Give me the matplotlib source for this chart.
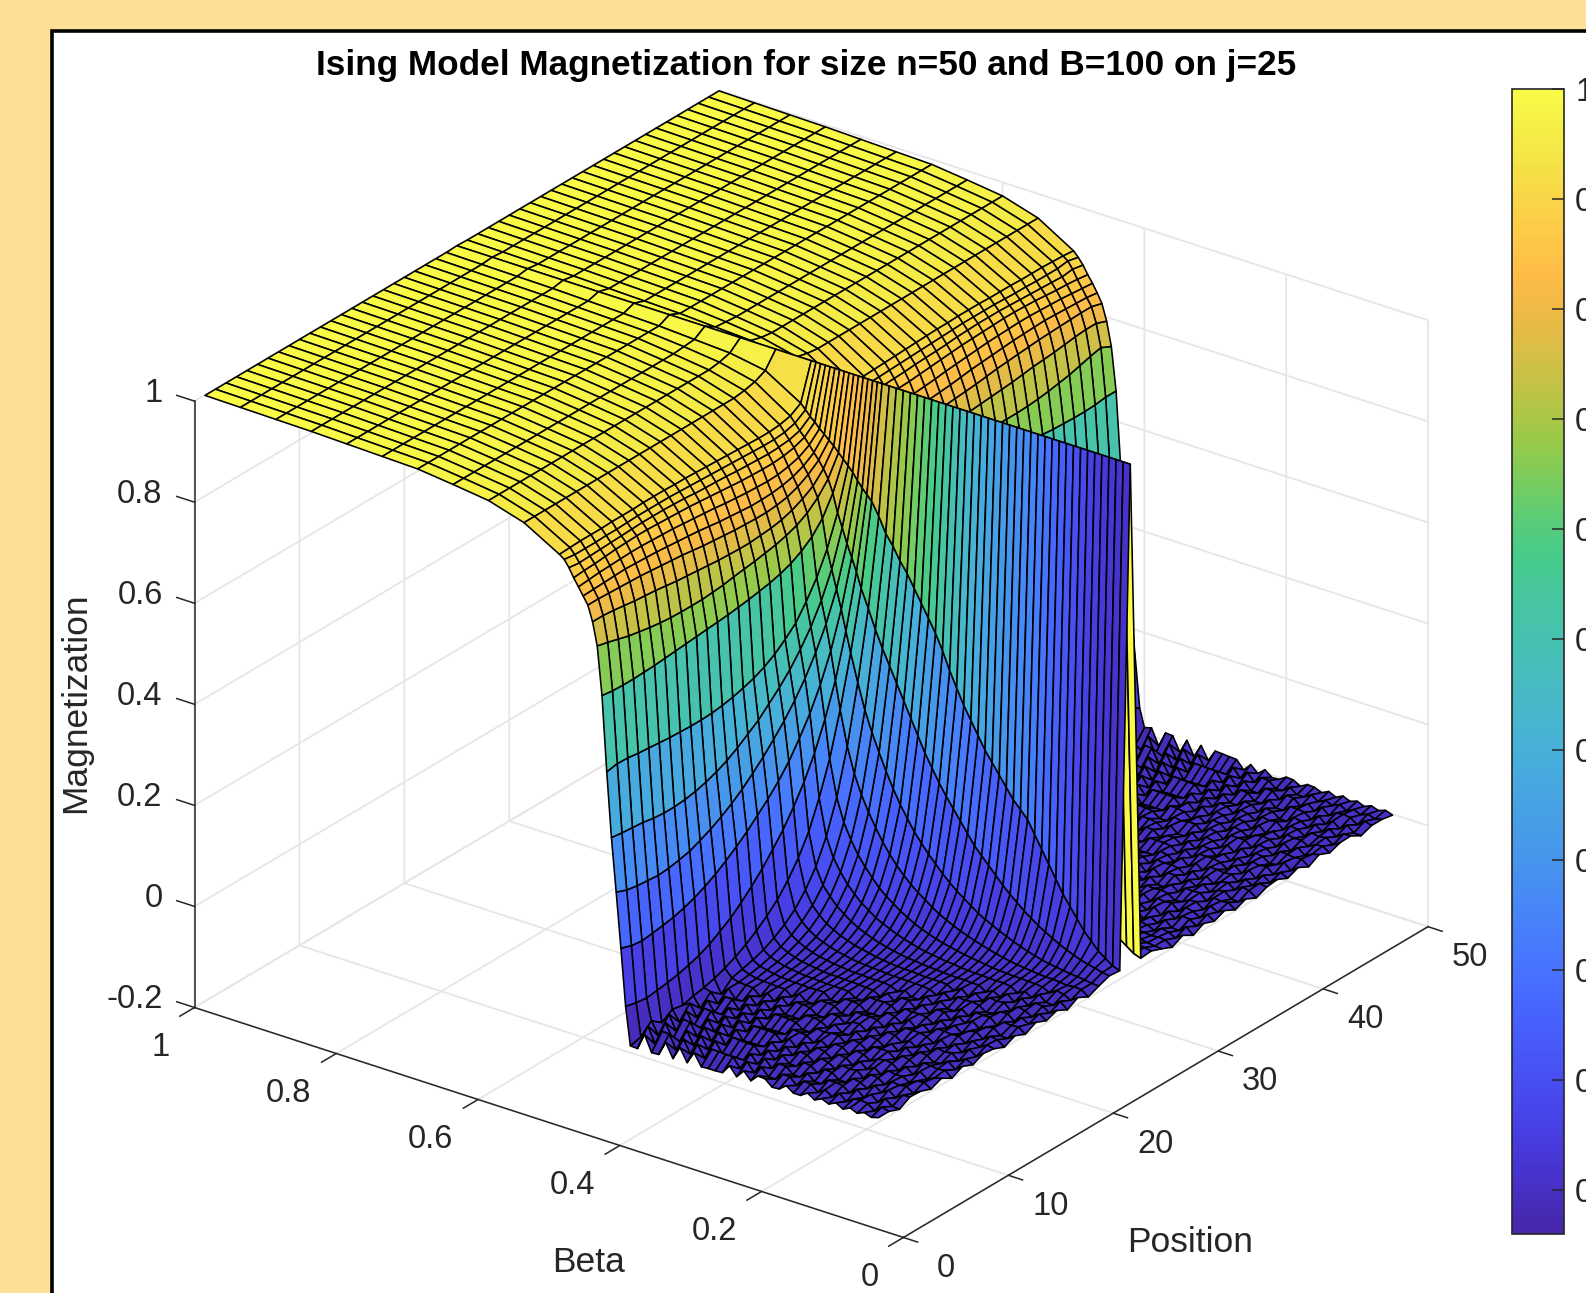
import numpy as np
import matplotlib
matplotlib.use("Agg")
import matplotlib.pyplot as plt
from matplotlib.colors import LinearSegmentedColormap, Normalize
from matplotlib.cm import ScalarMappable
from matplotlib.patches import Rectangle
from mpl_toolkits.mplot3d import proj3d

plt.rcParams['font.family'] = ['Liberation Sans', 'DejaVu Sans']

# fine steps below the transition, coarse ones above it
BETA = [0.05, 0.06, 0.07, 0.08, 0.09, 0.10, 0.11, 0.12, 0.13, 0.14, 0.15, 0.16,
        0.17, 0.18, 0.19, 0.20, 0.21, 0.22, 0.23, 0.24, 0.25, 0.26, 0.27, 0.28,
        0.29, 0.30, 0.31, 0.32, 0.33, 0.34, 0.35, 0.36, 0.37, 0.38, 0.39, 0.40,
        0.4067, 0.4133, 0.42, 0.4267, 0.4333, 0.44, 0.4467, 0.4533, 0.46, 0.4667,
        0.4733, 0.48, 0.4867, 0.4933, 0.50,
        0.55, 0.60, 0.65, 0.70, 0.75, 0.80, 0.85, 0.90, 0.95, 1.00]
POSITION = list(range(1, 51))
PINNED_POSITION = 25

# magnetization x1000, one row per beta, columns are distance 1..25 from j
MAG_BY_DISTANCE = [
    [10, 12, 4, -5, 6, -6, 5, -3, 6, -5, 4, -6, 3, 6, -4, 5, -6, 6, -3, 5, 6, -6, 2, 2, -2],
    [15, 14, 5, 5, -4, 6, -5, 6, -2, 5, -6, 4, 6, -5, 3, -6, 5, 2, 6, -4, 5, -5, 6, -2, 3],
    [25, 18, 7, 6, 3, -6, 4, -5, 6, 3, -5, 6, -3, 5, -6, 6, 3, -5, 4, 6, -5, 6, -6, 3, -2],
    [35, 21, 9, 4, 6, -5, 6, 3, -6, 5, 6, -4, 5, -6, 6, -3, 5, 6, -4, 3, 6, -6, 4, -3, 3],
    [50, 25, 10, 6, -3, 6, -4, 6, 5, -6, 3, 6, -5, 6, 3, -6, 6, -5, 4, 6, -4, 5, 6, 3, -3],
    [65, 30, 12, 7, 4, -5, 6, -6, 4, 6, -5, 3, 6, -5, 6, 4, -6, 6, 3, -5, 6, -6, 4, -4, 3],
    [85, 36, 14, 7, 6, 3, -6, 6, -4, 5, 6, -6, 4, 6, -5, 6, 3, -6, 6, 4, -5, 6, -6, 4, -2],
    [105, 42, 16, 8, 6, -5, 6, 4, -6, 6, -3, 5, 6, -6, 4, -5, 6, 4, -6, 6, 3, -6, 6, -3, 4],
    [125, 50, 19, 10, 7, 4, -5, 6, 3, -6, 6, -5, 6, 3, -6, 6, -5, 6, 3, -6, 6, 4, -6, 3, -3],
    [150, 58, 23, 11, 7, 6, 3, -5, 6, 4, -6, 6, -5, 6, 3, -6, 6, 3, -5, 6, -6, 6, 4, -4, 4],
    [175, 66, 27, 13, 8, 6, -4, 6, 4, -5, 6, -6, 5, 6, -6, 4, 6, -5, 6, 3, -6, 6, -6, 5, -3],
    [200, 76, 32, 15, 9, 6, 5, -5, 6, -5, 6, 3, -6, 6, 4, -6, 6, 3, -6, 6, 4, -6, 6, -4, 3],
    [225, 86, 37, 18, 10, 7, 5, 6, -4, 6, -6, 5, 6, -5, 6, 3, -6, 6, 4, -6, 6, -6, 7, -4, 4],
    [250, 98, 43, 21, 12, 7, 6, -3, 6, -5, 6, 4, -6, 6, -5, 6, 4, -6, 6, 3, -6, 6, -6, 6, -4],
    [265, 110, 49, 25, 14, 8, 6, 5, -4, 6, -6, 6, 3, -6, 6, -5, 6, 4, -6, 6, 4, -6, 7, -5, 4],
    [280, 123, 56, 29, 16, 9, 6, 6, 3, -5, 6, -6, 6, 4, -6, 6, -5, 6, 3, -6, 6, -6, 7, -6, 5],
    [300, 138, 63, 33, 18, 11, 7, 6, 5, -5, 6, 3, -6, 6, 4, -6, 6, -5, 6, 4, -6, 6, -7, 6, -4],
    [320, 153, 71, 38, 21, 12, 8, 6, 5, 4, -5, 6, -6, 6, 3, -6, 6, 4, -6, 6, -6, 7, -7, 7, -5],
    [340, 168, 81, 43, 24, 14, 9, 7, 6, -3, 6, 5, -6, 6, -5, 6, 3, -6, 7, -6, 7, -7, 8, -7, 6],
    [360, 183, 91, 49, 27, 16, 10, 8, 6, 4, -5, 6, 4, -6, 6, -5, 6, 4, -7, 7, -7, 8, -8, 8, -6],
    [385, 203, 101, 56, 31, 18, 12, 8, 6, 6, 3, -5, 6, -6, 6, 3, -6, 6, 6, -7, 7, -8, 9, -8, 7],
    [410, 223, 113, 63, 36, 21, 13, 9, 7, 6, 4, -5, 6, 4, -6, 6, -6, 7, -6, 7, -7, 8, -9, 9, -8],
    [435, 243, 126, 72, 41, 25, 15, 10, 8, 6, 5, 4, -5, 6, -6, 6, 4, -7, 7, -7, 8, -9, 10, -9, 8],
    [465, 263, 141, 82, 47, 29, 18, 12, 9, 7, 6, 5, -5, 6, 4, -6, 6, -7, 8, -8, 8, -9, 10, -10, 9],
    [495, 285, 156, 92, 55, 34, 21, 14, 10, 7, 6, 5, 6, -5, 6, -6, 7, -7, 8, -8, 9, -10, 11, -10, 10],
    [530, 310, 173, 104, 63, 40, 25, 17, 11, 8, 7, 5, 6, -5, 6, -6, 7, -8, 8, -9, 10, -10, 11, -11, 11],
    [560, 335, 191, 117, 73, 46, 29, 20, 13, 10, 7, 6, 5, 6, -6, 7, -7, 8, -8, 9, -10, 11, -11, 12, -12],
    [585, 365, 213, 132, 83, 53, 35, 23, 16, 11, 8, 7, 6, -5, 7, -7, 7, -8, 9, -9, 11, -11, 12, -12, 13],
    [610, 395, 236, 150, 95, 63, 41, 28, 19, 14, 10, 7, 6, 6, -6, 7, -8, 8, -9, 10, -11, 12, -12, 13, -13],
    [635, 425, 263, 170, 111, 73, 49, 33, 23, 16, 12, 9, 7, 6, 6, -7, 8, -8, 9, -10, 12, -12, 13, -13, 14],
    [660, 455, 293, 194, 128, 86, 59, 40, 28, 20, 14, 11, 8, 7, -6, 8, -8, 9, -9, 11, -12, 13, -13, 14, -14],
    [680, 485, 326, 220, 148, 101, 70, 48, 34, 25, 18, 13, 10, 8, 7, -7, 9, -9, 10, -11, 13, -13, 14, -14, 14],
    [705, 515, 361, 250, 173, 121, 85, 60, 43, 32, 23, 17, 13, 9, 8, -8, 9, -9, 11, -12, 14, -14, 15, -15, 15],
    [725, 548, 401, 287, 203, 145, 103, 75, 55, 41, 30, 22, 16, 12, 9, 9, -9, 10, -12, 13, -14, 15, -15, 16, -15],
    [755, 585, 451, 337, 248, 183, 135, 101, 75, 57, 43, 32, 24, 18, 13, -7, 10, -10, 12, -13, 15, -15, 16, -16, 16],
    [780, 620, 505, 405, 320, 255, 200, 160, 128, 102, 82, 65, 50, 38, 28, 20, 14, 10, 4, 8, -6, 10, -10, -15, 12],
    [790, 650, 545, 460, 395, 340, 295, 258, 225, 198, 172, 150, 130, 112, 98, 85, 75, 68, 62, 58, 55, 52, 55, 60, 48],
    [800, 675, 585, 515, 460, 415, 378, 345, 318, 295, 275, 255, 238, 222, 208, 196, 186, 178, 172, 168, 165, 162, 165, 172, 150],
    [812, 700, 622, 565, 520, 482, 450, 422, 398, 375, 355, 336, 320, 306, 294, 284, 275, 270, 266, 264, 266, 268, 272, 280, 255],
    [825, 728, 658, 608, 568, 536, 508, 485, 465, 445, 430, 415, 402, 392, 384, 378, 374, 372, 372, 374, 378, 380, 382, 385, 370],
    [835, 755, 695, 650, 615, 585, 565, 548, 535, 525, 518, 512, 508, 505, 504, 504, 505, 506, 508, 510, 512, 515, 516, 512, 510],
    [845, 790, 752, 728, 712, 700, 692, 686, 682, 678, 675, 672, 670, 668, 666, 664, 662, 660, 658, 657, 656, 656, 657, 660, 660],
    [855, 815, 790, 772, 760, 752, 746, 742, 738, 735, 732, 728, 726, 724, 724, 724, 725, 727, 730, 734, 738, 744, 750, 755, 745],
    [865, 832, 810, 797, 787, 780, 776, 774, 772, 772, 773, 774, 776, 778, 780, 782, 785, 788, 790, 792, 795, 798, 800, 800, 792],
    [873, 846, 830, 818, 810, 806, 804, 804, 805, 806, 808, 810, 812, 815, 818, 820, 822, 824, 826, 827, 828, 829, 830, 830, 824],
    [882, 858, 844, 835, 830, 827, 826, 826, 828, 830, 832, 835, 838, 840, 842, 844, 846, 847, 848, 849, 848, 847, 846, 845, 842],
    [890, 870, 858, 852, 848, 847, 848, 849, 851, 853, 856, 858, 860, 862, 864, 865, 866, 867, 867, 866, 865, 864, 862, 860, 858],
    [900, 882, 874, 870, 868, 868, 869, 870, 872, 874, 876, 878, 880, 881, 882, 883, 884, 884, 883, 882, 880, 878, 877, 875, 872],
    [908, 892, 886, 884, 883, 884, 885, 886, 888, 889, 890, 891, 893, 894, 895, 895, 895, 894, 893, 892, 891, 890, 889, 892, 888],
    [918, 904, 898, 896, 896, 897, 898, 899, 900, 901, 902, 903, 904, 905, 905, 905, 905, 904, 903, 903, 902, 902, 902, 905, 900],
    [928, 915, 910, 908, 908, 909, 910, 911, 912, 913, 914, 915, 915, 916, 916, 916, 915, 915, 915, 914, 914, 914, 913, 912, 910],
    [970, 960, 955] + [952] * 22,
    [982, 976] + [973] * 23,
    [986, 984] + [982] * 23,
    [990] * 25,
    [992] * 25,
    [994] * 25,
    [996] * 25,
    [997] * 25,
    [998] * 25,
    [999] * 25,
]

POSITION_TICKS = [0, 10, 20, 30, 40, 50]
BETA_TICKS = [0, 0.2, 0.4, 0.6, 0.8, 1]
BETA_LABELS = ['0', '0.2', '0.4', '0.6', '0.8', '1']
Z_TICKS = [-0.2, 0, 0.2, 0.4, 0.6, 0.8, 1]
Z_LABELS = ['-0.2', '0', '0.2', '0.4', '0.6', '0.8', '1']
CBAR_TICKS = [0, 0.1, 0.2, 0.3, 0.4, 0.5, 0.6, 0.7, 0.8, 0.9, 1]
CBAR_LABELS = ['0', '0.1', '0.2', '0.3', '0.4', '0.5', '0.6', '0.7', '0.8', '0.9', '1']
COLOR_MIN = -0.04
COLOR_MAX = 1.0

# matlab parula
PARULA = [
    (0.2422, 0.1504, 0.6603), (0.2504, 0.1650, 0.7076), (0.2578, 0.1818, 0.7511), (0.2647, 0.1978, 0.7952),
    (0.2706, 0.2147, 0.8364), (0.2751, 0.2342, 0.8710), (0.2783, 0.2559, 0.8991), (0.2803, 0.2782, 0.9221),
    (0.2813, 0.3006, 0.9414), (0.2810, 0.3228, 0.9579), (0.2795, 0.3447, 0.9717), (0.2760, 0.3667, 0.9829),
    (0.2699, 0.3892, 0.9906), (0.2602, 0.4123, 0.9952), (0.2440, 0.4358, 0.9988), (0.2206, 0.4603, 0.9973),
    (0.1963, 0.4847, 0.9892), (0.1834, 0.5074, 0.9798), (0.1786, 0.5289, 0.9682), (0.1764, 0.5499, 0.9520),
    (0.1687, 0.5703, 0.9359), (0.1540, 0.5902, 0.9218), (0.1460, 0.6091, 0.9079), (0.1380, 0.6276, 0.8973),
    (0.1248, 0.6459, 0.8883), (0.1113, 0.6635, 0.8763), (0.0952, 0.6798, 0.8598), (0.0689, 0.6948, 0.8394),
    (0.0297, 0.7082, 0.8163), (0.0036, 0.7203, 0.7917), (0.0067, 0.7312, 0.7660), (0.0433, 0.7411, 0.7394),
    (0.0964, 0.7500, 0.7120), (0.1408, 0.7584, 0.6842), (0.1717, 0.7670, 0.6554), (0.1938, 0.7758, 0.6251),
    (0.2161, 0.7843, 0.5923), (0.2470, 0.7918, 0.5567), (0.2906, 0.7973, 0.5188), (0.3406, 0.8008, 0.4789),
    (0.3909, 0.8029, 0.4354), (0.4456, 0.8024, 0.3909), (0.5044, 0.7993, 0.3480), (0.5616, 0.7942, 0.3045),
    (0.6174, 0.7876, 0.2612), (0.6720, 0.7793, 0.2227), (0.7242, 0.7698, 0.1910), (0.7738, 0.7598, 0.1646),
    (0.8203, 0.7498, 0.1535), (0.8634, 0.7406, 0.1596), (0.9035, 0.7330, 0.1774), (0.9393, 0.7288, 0.2100),
    (0.9728, 0.7298, 0.2394), (0.9956, 0.7434, 0.2371), (0.9970, 0.7659, 0.2199), (0.9952, 0.7893, 0.2028),
    (0.9892, 0.8136, 0.1885), (0.9786, 0.8386, 0.1766), (0.9676, 0.8639, 0.1643), (0.9610, 0.8890, 0.1537),
    (0.9597, 0.9135, 0.1423), (0.9628, 0.9373, 0.1265), (0.9691, 0.9606, 0.1064), (0.9769, 0.9839, 0.0805),
]
# the screenshot has the red and blue channels washed out a little
COLOR_FLOOR = [0.28, 0.0, 0.28]

W, H = 1586, 1293
DPI = 100
INK = '#262626'


def fig_box(x0, y0, x1, y1):
    # pixel box, y from the top, to figure fractions
    return [x0 / W, 1 - y1 / H, (x1 - x0) / W, (y1 - y0) / H]


def corner_px(ax, x, y, z):
    px, py, _ = proj3d.proj_transform(x, y, z, ax.get_proj())
    return ax.transData.transform((px, py))


def tick_text(ax, fig, point, label, dx, dy, ha):
    # tick label next to a point of the 3d axes, offset in pixels
    px, py = corner_px(ax, *point)
    fig.text((px + dx) / W, (py + dy) / H, label, ha=ha, va='center', fontsize=23.5, color=INK)


def tick_mark(ax, start, end):
    ax.plot(*zip(start, end), color=INK, linewidth=1.1, clip_on=False)


# build the surface from the distance table, j itself is pinned at 1
table = np.array(MAG_BY_DISTANCE) / 1000.0
pos = np.array(POSITION)
beta = np.array(BETA)
mag = np.ones((len(beta), len(pos)))
for i, p in enumerate(pos):
    if p != PINNED_POSITION:
        mag[:, i] = table[:, abs(p - PINNED_POSITION) - 1]

parula = LinearSegmentedColormap.from_list('parula', np.maximum(PARULA, COLOR_FLOOR), N=256)
norm = Normalize(COLOR_MIN, COLOR_MAX)

fig = plt.figure(figsize=(W / DPI, H / DPI), dpi=DPI, facecolor='#FDE096')
fig.patches.append(Rectangle((51.5 / W, -0.1), 1.1, 1.1 - 30.5 / H, transform=fig.transFigure,
                             facecolor='white', edgecolor='black', linewidth=2.6, zorder=-1))

ax = fig.add_axes(fig_box(50, 30, 1450, 1290), projection='3d', proj_type='ortho')
ax.patch.set_visible(False)
ax.view_init(elev=26, azim=-143.5)
ax.set_box_aspect((1, 1, 0.765), zoom=1.3)

X, Y = np.meshgrid(pos, beta)
surf = ax.plot_surface(X, Y, mag, rstride=1, cstride=1, facecolors=parula(norm(mag)), shade=False,
                       edgecolor='black', linewidth=1.15, antialiased=True)
surf.set_clip_on(False)

# matlab puts the ticks on other sides than mplot3d, so draw them as short lines
for t in POSITION_TICKS:
    tick_mark(ax, (t, 0, -0.2), (t, -0.02, -0.2))
for t in BETA_TICKS:
    tick_mark(ax, (0, t, -0.2), (-1.4, t, -0.2))
for t in Z_TICKS:
    tick_mark(ax, (0, 1, t), (0, 1.025, t))

ax.set_xlim(0, 50, view_margin=0)
ax.set_ylim(0, 1, view_margin=0)
ax.set_zlim(-0.2, 1, view_margin=0)

ax.set_xticks(POSITION_TICKS)
ax.set_yticks(BETA_TICKS)
ax.set_zticks(Z_TICKS)
ax.set_xticklabels([])
ax.set_yticklabels([])
ax.set_zticklabels([])

for axis in (ax.xaxis, ax.yaxis, ax.zaxis):
    axis.pane.set_facecolor('white')
    axis.pane.set_edgecolor('white')
    axis.line.set_color(INK)
    axis.line.set_linewidth(1.1)
    axis._axinfo['grid']['color'] = '#e6e6e6'
    axis._axinfo['grid']['linewidth'] = 1.3
    axis._axinfo['tick']['inward_factor'] = 0.0
    axis._axinfo['tick']['outward_factor'] = 0.0

# match the axes box to the pixel positions of the floor corners
fig.canvas.draw()
for _ in range(2):
    left = corner_px(ax, 0, 1, -0.2)
    right = corner_px(ax, 50, 0, -0.2)
    scale = (1428.0 - 194.5) / (right[0] - left[0])
    b = ax.get_position()
    ax.set_position([b.x0, b.y0, b.width * scale, b.height * scale])
    fig.canvas.draw()
    left = corner_px(ax, 0, 1, -0.2)
    b = ax.get_position()
    ax.set_position([b.x0 + (194.5 - left[0]) / W, b.y0 + ((H - 1007.5) - left[1]) / H, b.width, b.height])
    fig.canvas.draw()

for t in POSITION_TICKS:
    tick_text(ax, fig, (t, 0, -0.2), str(t), 42, -31, 'center')
for t, label in zip(BETA_TICKS, BETA_LABELS):
    tick_text(ax, fig, (0, t, -0.2), label, -25, -40, 'right')
for t, label in zip(Z_TICKS, Z_LABELS):
    tick_text(ax, fig, (0, 1, t), label, -32, 8, 'right')

fig.text(806 / W, 1 - 66 / H, 'Ising Model Magnetization for size n=50 and B=100 on j=25', ha='center', va='center',
         fontsize=25.3, fontweight='bold', color='black')
fig.text(76 / W, 1 - 703 / H, 'Magnetization', rotation=90, ha='center', va='center', fontsize=25.5, color=INK)
fig.text(589 / W, 1 - 1263 / H, 'Beta', ha='center', va='center', fontsize=25.5, color=INK)
fig.text(1190 / W, 1 - 1243 / H, 'Position', ha='center', va='center', fontsize=25.5, color=INK)

cax = fig.add_axes(fig_box(1512, 89, 1564, 1234))
sm = ScalarMappable(norm=norm, cmap=parula)
cb = fig.colorbar(sm, cax=cax)
cb.set_ticks(CBAR_TICKS)
cb.set_ticklabels(CBAR_LABELS)
cb.ax.tick_params(direction='in', length=8.5, width=1.1, labelsize=23.5, pad=8, colors=INK)
cb.outline.set_edgecolor(INK)
cb.outline.set_linewidth(1.2)

fig.savefig('out.png', dpi=DPI, facecolor=fig.get_facecolor())
